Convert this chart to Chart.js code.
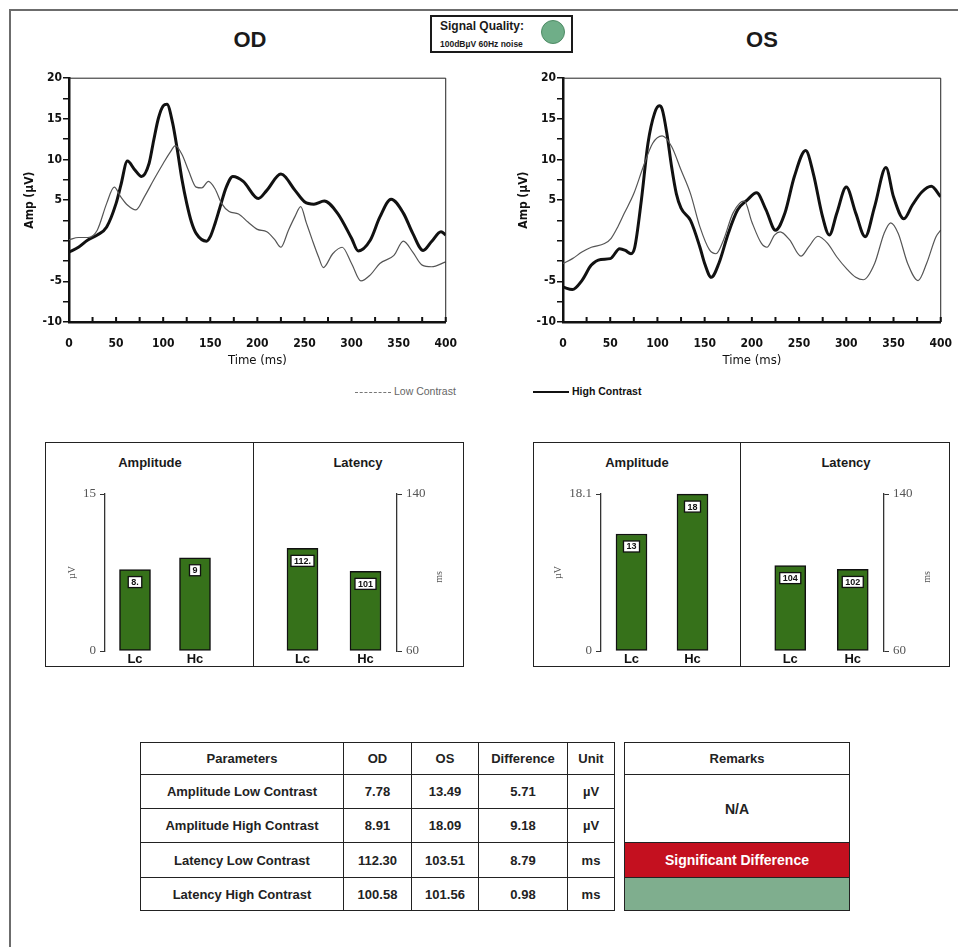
<!DOCTYPE html>
<html>
<head>
<meta charset="utf-8">
<title>VEP report</title>
<script src="https://cdn.jsdelivr.net/npm/chart.js@4.4.1/dist/chart.umd.min.js"></script>
<style>
  body { margin: 0; width: 958px; height: 947px; background: #fff; position: relative; overflow: hidden;
         font-family: "Liberation Sans", Arial, sans-serif; color: #1a1a1a; }
  canvas { position: absolute; }
  .abs { position: absolute; }
  .frame { left: 9px; top: 9px; width: 1000px; height: 1000px; border-left: 2px solid #6c6c6c; border-top: 2px solid #6c6c6c; }
  .eye { font-weight: bold; font-size: 22px; transform: translateX(-50%); top: 27px; }
  .sq { left: 430px; top: 15px; width: 139px; height: 34px; border: 2px solid #1a1a1a; }
  .sq .t1 { position: absolute; left: 8px; top: 2px; font-size: 12px; font-weight: bold; }
  .sq .t2 { position: absolute; left: 8px; top: 22px; font-size: 8.5px; font-weight: bold; }
  .sq .dot { position: absolute; left: 109px; top: 3px; width: 22px; height: 22px; border-radius: 50%;
             background: #6fae88; border: 1px solid #4f8c66; }
  .legend { top: 385px; font-size: 10.5px; white-space: nowrap; }
  .legend span.ln { display: inline-block; width: 36px; vertical-align: middle; margin-right: 3px; }
  .panel { top: 442px; height: 223px; border: 1.5px solid #222; }
  .divider { top: 442px; height: 225px; border-left: 1.5px solid #222; }
  .ptitle { top: 455px; font-size: 13px; font-weight: bold; transform: translateX(-50%); }
  .ms { font-family: "Liberation Serif", serif; font-size: 10px; color: #555; transform: translate(-50%, -50%) rotate(-90deg); }
  table { position: absolute; border-collapse: collapse; table-layout: fixed; font-size: 13px; font-weight: bold; color: #222; }
  td { border: 1.5px solid #222; text-align: center; padding: 0; }
</style>
</head>
<body>
<div class="abs frame"></div>

<div class="abs eye" style="left:250px">OD</div>
<div class="abs eye" style="left:762px">OS</div>

<div class="abs sq">
  <div class="t1">Signal Quality:</div>
  <div class="t2">100dBµV 60Hz noise</div>
  <div class="dot"></div>
</div>

<canvas id="odWave" width="452" height="300" style="left:20px; top:70px"></canvas>
<canvas id="osWave" width="453" height="300" style="left:514px; top:70px"></canvas>

<div class="abs legend" style="left:355px; color:#666"><span class="ln" style="border-top:1px dashed #777"></span>Low Contrast</div>
<div class="abs legend" style="left:533px; font-weight:bold; color:#111"><span class="ln" style="border-top:2px solid #111"></span>High Contrast</div>

<div class="abs panel" style="left:45px; width:417px"></div>
<div class="abs divider" style="left:253px"></div>
<div class="abs panel" style="left:533px; width:415px"></div>
<div class="abs divider" style="left:740px"></div>

<div class="abs ptitle" style="left:150px">Amplitude</div>
<div class="abs ptitle" style="left:358px">Latency</div>
<div class="abs ptitle" style="left:637px">Amplitude</div>
<div class="abs ptitle" style="left:846px">Latency</div>

<canvas id="odAmp" width="175" height="188" style="left:60px; top:482px"></canvas>
<canvas id="odLat" width="180" height="188" style="left:261px; top:482px"></canvas>
<canvas id="osAmp" width="187" height="188" style="left:546px; top:482px"></canvas>
<canvas id="osLat" width="179" height="188" style="left:749px; top:482px"></canvas>

<div class="abs ms" style="left:438px; top:577px">ms</div>
<div class="abs ms" style="left:926px; top:577px">ms</div>

<table id="params" style="left:140px; top:742px; width:474px">
  <colgroup><col style="width:203px"><col style="width:68px"><col style="width:67px"><col style="width:89px"><col style="width:47px"></colgroup>
  <tbody></tbody>
</table>

<table style="left:624px; top:742px; width:226px">
  <tr style="height:32px"><td>Remarks</td></tr>
  <tr style="height:68px"><td style="font-size:14px">N/A</td></tr>
  <tr style="height:35px"><td style="background:#c4101f; color:#fff; font-size:14px">Significant Difference</td></tr>
  <tr style="height:33px"><td style="background:#7fae8e"></td></tr>
</table>

<script>
// ---- waveforms (time in ms, amplitude in µV) ----
const odLowTime = [0, 10, 20, 30, 40, 48, 55, 62, 71, 80, 90, 100, 108, 113, 120, 127, 135, 141, 148, 155, 162, 170, 180, 190, 200, 210, 218, 225, 233, 240, 246, 252, 258, 265, 270, 280, 290, 300, 310, 320, 330, 345, 355, 365, 375, 385, 400];
const odLowAmp  = [0.1, 0.4, 0.4, 1.3, 4.6, 6.6, 5.4, 4.4, 3.8, 5.4, 7.5, 9.5, 11.0, 11.7, 10.6, 8.6, 6.6, 6.5, 7.3, 6.4, 4.6, 3.6, 3.3, 2.3, 1.4, 1.1, 0.2, -0.8, 1.3, 3.0, 4.2, 2.2, 0.2, -2.0, -3.3, -1.6, -0.8, -2.8, -4.95, -4.2, -2.8, -1.8, -0.05, -1.4, -3.0, -3.2, -2.6];

const odHighTime = [0, 10, 20, 30, 40, 50, 55, 62, 70, 77, 85, 90, 95, 100, 104, 110, 115, 120, 125, 130, 135, 146, 150, 155, 160, 167, 174, 185, 201, 210, 225, 240, 250, 260, 271, 285, 300, 307, 320, 330, 342, 355, 365, 376, 385, 395, 400];
const odHighAmp  = [-1.4, -0.8, 0.1, 0.7, 1.7, 4.6, 6.8, 9.8, 8.7, 7.9, 9.5, 12.4, 15.1, 16.6, 16.8, 14.5, 11.2, 7.5, 4.6, 2.3, 0.9, -0.05, 0.5, 2.1, 4.0, 6.6, 7.9, 7.3, 5.2, 6.2, 8.2, 6.2, 4.8, 4.5, 4.9, 3.4, 0.3, -1.25, 0.1, 2.9, 5.1, 3.4, 0.9, -1.2, -0.1, 1.1, 0.7];

const osLowTime = [0, 10, 20, 30, 44, 51, 58, 65, 75, 85, 95, 105, 115, 125, 135, 145, 155, 162, 170, 180, 192, 200, 210, 216, 224, 230, 240, 252, 260, 270, 280, 290, 300, 310, 318, 330, 340, 347, 355, 365, 376, 385, 395, 400];
const osLowAmp  = [-2.8, -2.2, -1.4, -0.8, -0.35, 0.3, 1.7, 3.4, 5.8, 9.1, 12.0, 12.9, 11.6, 8.7, 5.8, 1.7, -1.1, -1.6, 0.1, 3.4, 4.9, 2.3, -0.3, -0.8, 0.7, 1.1, 0.1, -1.9, -0.8, 0.55, -0.3, -2.0, -3.4, -4.5, -4.8, -2.8, 0.9, 2.2, 0.9, -2.8, -4.9, -2.8, 0.5, 1.3];

const osHighTime = [0, 10, 20, 30, 40, 50, 60, 66, 72, 76, 83, 90, 97, 102, 105, 110, 115, 120, 125, 135, 145, 150, 157, 165, 175, 185, 195, 205, 215, 225, 235, 245, 257, 265, 275, 282, 290, 300, 310, 320, 330, 342, 350, 361, 370, 380, 390, 400];
const osHighAmp  = [-5.7, -6.0, -4.9, -3.0, -2.3, -2.2, -1.0, -1.2, -1.6, -0.8, 5.0, 12.0, 15.7, 16.6, 16.2, 13.2, 9.1, 5.8, 4.0, 2.5, -0.8, -2.8, -4.5, -2.8, 0.9, 3.8, 5.0, 5.9, 3.8, 1.3, 3.4, 7.9, 11.1, 8.3, 2.9, 0.7, 3.4, 6.6, 3.4, 0.5, 4.2, 9.0, 5.4, 2.7, 4.4, 6.0, 6.7, 5.4];

// ---- bar summaries ----
const contrastLabels = ['Lc', 'Hc'];
const odAmpValues = [7.78, 8.91];
const odAmpTags   = ['8.', '9'];
const odLatValues = [112.30, 100.58];
const odLatTags   = ['112.', '101'];
const osAmpValues = [13.49, 18.09];
const osAmpTags   = ['13', '18'];
const osLatValues = [103.51, 101.56];
const osLatTags   = ['104', '102'];

// ---- table ----
const paramNames = ['Amplitude Low Contrast', 'Amplitude High Contrast', 'Latency Low Contrast', 'Latency High Contrast'];
const paramOD    = ['7.78', '8.91', '112.30', '100.58'];
const paramOS    = ['13.49', '18.09', '103.51', '101.56'];
const paramDiff  = ['5.71', '9.18', '8.79', '0.98'];
const paramUnit  = ['µV', 'µV', 'ms', 'ms'];

const tickFont = { family: '"DejaVu Sans Condensed", "DejaVu Sans", sans-serif', size: 12, weight: 'bold' };

// top/right box lines and the small inward ticks on the time axis
const waveFrame = {
  id: 'waveFrame',
  afterDraw(chart) {
    const { ctx, chartArea: a } = chart;
    const x = chart.scales.x;
    ctx.save();
    ctx.strokeStyle = '#222';
    ctx.lineWidth = 1;
    ctx.beginPath();
    ctx.moveTo(a.left, a.top);
    ctx.lineTo(a.right, a.top);
    ctx.lineTo(a.right, a.bottom);
    ctx.stroke();
    ctx.strokeStyle = '#111';
    ctx.lineWidth = 2;
    ctx.beginPath();
    for (let t = x.min; t <= x.max; t += 25) {
      const px = x.getPixelForValue(t);
      ctx.moveTo(px, a.bottom);
      ctx.lineTo(px, a.bottom - 5);
    }
    ctx.stroke();
    ctx.restore();
  }
};

function waveChart(id, lowT, lowA, highT, highA) {
  const pts = (t, a) => t.map((v, i) => ({ x: v, y: a[i] }));
  return new Chart(document.getElementById(id), {
    type: 'line',
    data: {
      datasets: [
        { label: 'Low Contrast', data: pts(lowT, lowA), borderColor: '#555', borderWidth: 1.2,
          pointRadius: 0, cubicInterpolationMode: 'monotone' },
        { label: 'High Contrast', data: pts(highT, highA), borderColor: '#111', borderWidth: 3,
          pointRadius: 0, cubicInterpolationMode: 'monotone' }
      ]
    },
    options: {
      responsive: false,
      animation: false,
      layout: { padding: { top: 8, right: 0, left: 0, bottom: 0 } },
      plugins: { legend: { display: false }, tooltip: { enabled: false } },
      scales: {
        x: {
          type: 'linear', min: 0, max: 400,
          ticks: { stepSize: 50, maxRotation: 0, font: tickFont, color: '#111', padding: 15 },
          grid: { display: false, drawTicks: false },
          border: { color: '#111', width: 2.5 },
          title: { display: true, text: 'Time (ms)', color: '#111', padding: { top: 0, bottom: 2 },
                   font: { family: tickFont.family, size: 13 } },
          afterFit: s => { s.height = 48; }
        },
        y: {
          min: -10, max: 20,
          ticks: { stepSize: 2.5, font: tickFont, color: '#111', padding: 1,
                   callback: v => (v % 5 === 0 && v !== 0) ? v : '' },
          grid: { drawOnChartArea: false, tickLength: 6, color: '#111', lineWidth: 1.5 },
          border: { color: '#111', width: 2.5 },
          title: { display: true, text: 'Amp (µV)', color: '#111', padding: { top: 3, bottom: 0 },
                   font: { family: tickFont.family, size: 12, weight: 'bold' } },
          afterFit: s => { s.width = 49; }
        }
      }
    },
    plugins: [waveFrame]
  });
}

// white numbered boxes near the top of each bar
const valueBoxes = {
  id: 'valueBoxes',
  afterDatasetsDraw(chart, args, opts) {
    const { ctx } = chart;
    const meta = chart.getDatasetMeta(0);
    ctx.save();
    ctx.font = 'bold 9px "Liberation Sans", Arial, sans-serif';
    ctx.textAlign = 'center';
    ctx.textBaseline = 'middle';
    meta.data.forEach((bar, i) => {
      const txt = opts.tags[i];
      const w = ctx.measureText(txt).width + 6, h = 11;
      const top = bar.y + 7;
      ctx.fillStyle = '#fff';
      ctx.fillRect(bar.x - w / 2, top, w, h);
      ctx.strokeStyle = '#111';
      ctx.lineWidth = 1.3;
      ctx.strokeRect(bar.x - w / 2, top, w, h);
      ctx.fillStyle = '#111';
      ctx.fillText(txt, bar.x, top + h / 2 + 0.5);
    });
    ctx.restore();
  }
};

function barChart(id, values, tags, min, max, side) {
  const left = side === 'left';
  return new Chart(document.getElementById(id), {
    type: 'bar',
    data: {
      labels: contrastLabels,
      datasets: [{ data: values, base: min, backgroundColor: '#36711a', borderColor: '#111',
                   borderWidth: 1.5, borderSkipped: false, barThickness: 31, clip: 4 }]
    },
    options: {
      responsive: false,
      animation: false,
      layout: { padding: { top: 12, right: left ? 10 : 0, left: left ? 0 : 10, bottom: 0 } },
      plugins: { legend: { display: false }, tooltip: { enabled: false }, valueBoxes: { tags: tags } },
      scales: {
        x: {
          ticks: { font: { size: 13, weight: 'bold' }, color: '#111', padding: 1 },
          grid: { display: false, drawTicks: false },
          border: { display: false },
          afterFit: s => { s.height = 19; }
        },
        y: {
          position: side, min: min, max: max,
          afterBuildTicks: s => { s.ticks = [{ value: min }, { value: max }]; },
          ticks: { font: { family: '"Liberation Serif", serif', size: 13 }, color: '#555', padding: 4 },
          grid: { drawOnChartArea: false, tickLength: 5, color: '#333', lineWidth: 1 },
          border: { color: '#333', width: 1.3 },
          title: { display: left, text: 'µV', color: '#555', padding: { top: 6, bottom: 0 },
                   font: { family: '"Liberation Serif", serif', size: 10 } },
          afterFit: s => { s.width = left ? (id === 'odAmp' ? 45 : 55) : 44; }
        }
      }
    },
    plugins: [valueBoxes]
  });
}

waveChart('odWave', odLowTime, odLowAmp, odHighTime, odHighAmp);
waveChart('osWave', osLowTime, osLowAmp, osHighTime, osHighAmp);

barChart('odAmp', odAmpValues, odAmpTags, 0, 15, 'left');
barChart('odLat', odLatValues, odLatTags, 60, 140, 'right');
barChart('osAmp', osAmpValues, osAmpTags, 0, 18.1, 'left');
barChart('osLat', osLatValues, osLatTags, 60, 140, 'right');

// parameter table
const body = document.querySelector('#params tbody');
const head = document.createElement('tr');
head.style.height = '32px';
['Parameters', 'OD', 'OS', 'Difference', 'Unit'].forEach(h => {
  const td = document.createElement('td');
  td.textContent = h;
  head.appendChild(td);
});
body.appendChild(head);
const rowHeights = [34, 34, 35, 33];
paramNames.forEach((name, i) => {
  const tr = document.createElement('tr');
  tr.style.height = rowHeights[i] + 'px';
  [name, paramOD[i], paramOS[i], paramDiff[i], paramUnit[i]].forEach(v => {
    const td = document.createElement('td');
    td.textContent = v;
    tr.appendChild(td);
  });
  body.appendChild(tr);
});
</script>
</body>
</html>
